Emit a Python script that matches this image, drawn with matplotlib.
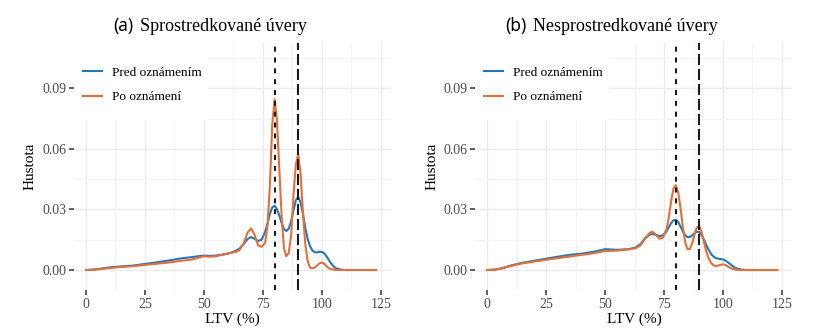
import matplotlib
matplotlib.use("Agg")
import matplotlib.pyplot as plt
from matplotlib.patches import Rectangle

plt.rcParams['font.family'] = ['Liberation Serif', 'DejaVu Serif']
plt.rcParams['lines.scale_dashes'] = False

ltv_a = [0, 3, 6, 10, 15, 20, 25, 30, 35, 40, 45, 48, 50, 52, 55, 60, 63, 65, 67, 68.5,
         70, 71.5, 73, 74.5, 76, 77, 78, 79, 80, 81, 82, 83, 84, 85, 86, 87, 88, 89, 90,
         91, 92, 93, 94, 95, 96, 97, 98, 99, 100, 101, 102, 103, 104, 105, 106, 108, 110,
         115, 123]
pred_a = [0, 0.0002, 0.0006, 0.0013, 0.0018, 0.0022, 0.0030, 0.0038, 0.0047, 0.0057,
          0.0064, 0.0069, 0.0071, 0.0070, 0.0071, 0.0080, 0.0092, 0.0105, 0.0130, 0.0153,
          0.0163, 0.0155, 0.0144, 0.0150, 0.0190, 0.0230, 0.0278, 0.0310, 0.0318, 0.0302,
          0.0270, 0.0232, 0.0202, 0.0193, 0.0205, 0.0240, 0.0295, 0.0345, 0.0362, 0.0335,
          0.0280, 0.0210, 0.0155, 0.0118, 0.0097, 0.0088, 0.0087, 0.0090, 0.0090, 0.0083,
          0.0068, 0.0050, 0.0032, 0.0018, 0.0009, 0.0002, 0, 0, 0]
po_a = [0, 0.0001, 0.0004, 0.0010, 0.0015, 0.0019, 0.0025, 0.0031, 0.0037, 0.0045,
        0.0052, 0.0062, 0.0068, 0.0066, 0.0068, 0.0082, 0.0088, 0.0097, 0.0135, 0.0185,
        0.0206, 0.0175, 0.0122, 0.0115, 0.0135, 0.0220, 0.0420, 0.0720, 0.0845, 0.0740,
        0.0500, 0.0260, 0.0105, 0.0068, 0.0085, 0.0170, 0.0370, 0.0520, 0.0575, 0.0480,
        0.0290, 0.0130, 0.0045, 0.0012, 0.0008, 0.0012, 0.0022, 0.0033, 0.0037, 0.0031,
        0.0019, 0.0009, 0.0004, 0.0002, 0.0001, 0, 0, 0, 0]

ltv_b = [0, 3, 6, 10, 15, 20, 25, 30, 35, 40, 45, 50, 55, 60, 63, 65, 67, 69, 70, 71.5,
         73, 74.5, 76, 77, 78, 79, 80, 81, 82, 83, 84, 85, 86, 87, 88, 89, 90, 91, 92, 93,
         94, 95, 96, 97, 98, 99, 100, 101, 102, 103, 104, 105, 106, 108, 110, 115, 123]
pred_b = [0, 0.0002, 0.0008, 0.0022, 0.0036, 0.0046, 0.0056, 0.0066, 0.0075, 0.0081,
          0.0090, 0.0103, 0.0100, 0.0103, 0.0112, 0.0128, 0.0158, 0.0176, 0.0178, 0.0175,
          0.0168, 0.0172, 0.0190, 0.0212, 0.0232, 0.0246, 0.0249, 0.0238, 0.0215, 0.0190,
          0.0172, 0.0163, 0.0164, 0.0172, 0.0183, 0.0190, 0.0188, 0.0172, 0.0148, 0.0122,
          0.0098, 0.0079, 0.0066, 0.0059, 0.0056, 0.0054, 0.0052, 0.0047, 0.0039, 0.0030,
          0.0020, 0.0012, 0.0007, 0.0002, 0, 0, 0]
po_b = [0, 0.0001, 0.0007, 0.0020, 0.0033, 0.0042, 0.0051, 0.0059, 0.0067, 0.0075,
        0.0083, 0.0094, 0.0096, 0.0102, 0.0108, 0.0122, 0.0155, 0.0185, 0.0190, 0.0175,
        0.0155, 0.0160, 0.0200, 0.0260, 0.0340, 0.0405, 0.0420, 0.0385, 0.0305, 0.0210,
        0.0135, 0.0102, 0.0105, 0.0135, 0.0180, 0.0212, 0.0215, 0.0185, 0.0135, 0.0088,
        0.0055, 0.0035, 0.0023, 0.0020, 0.0022, 0.0026, 0.0028, 0.0025, 0.0018, 0.0011,
        0.0006, 0.0003, 0.0001, 0, 0, 0, 0]

panels = [
    ("(a)", "Sprostredkované úvery", ltv_a, pred_a, po_a),
    ("(b)", "Nesprostredkované úvery", ltv_b, pred_b, po_b),
]
labels = ["Pred oznámením", "Po oznámení"]
x_ticks = [0, 25, 50, 75, 100, 125]
y_ticks = [0, 0.03, 0.06, 0.09]
y_ticklabels = ["0.00", "0.03", "0.06", "0.09"]
cutoffs = [80, 90]

blue = "#2577b8"
orange = "#e2703a"

fig = plt.figure(figsize=(8.34, 3.32), dpi=100)

lefts = [0.0890, 0.5701]
tag_x = [0.1595, 0.6307]
title_x = [0.1679, 0.6391]

for i, (tag, title, ltv, pred, po) in enumerate(panels):
    ax = fig.add_axes([lefts[i], 0.1265, 0.3799, 0.744])
    ax.set_xlim(-5, 129.4)
    ax.set_ylim(-0.0099, 0.1124)

    # grid
    ax.set_xticks(x_ticks)
    ax.set_xticks([12.5, 37.5, 62.5, 87.5, 112.5], minor=True)
    ax.set_yticks(y_ticks)
    ax.set_yticklabels(y_ticklabels)
    ax.set_yticks([0.015, 0.045, 0.075, 0.105], minor=True)
    ax.grid(which='major', color='#ebebeb', lw=1.0)
    ax.grid(which='minor', color='#f4f4f4', lw=0.7)
    ax.set_axisbelow(True)
    for s in ax.spines.values():
        s.set_visible(False)
    ax.tick_params(which='major', length=3.5, width=1.1, color='#333333',
                   labelcolor='#4d4d4d', labelsize=10, pad=2)
    ax.tick_params(which='minor', length=0)

    # white legend background hides grid
    ax.add_patch(Rectangle((0, 0.688), 0.423, 0.312, transform=ax.transAxes,
                           facecolor='white', edgecolor='none', zorder=1.5))

    ax.plot(ltv, pred, color=blue, lw=1.5, label=labels[0], zorder=3)
    ax.plot(ltv, po, color=orange, lw=1.5, label=labels[1], zorder=3)
    ax.axvline(cutoffs[0], color='#1a1a1a', lw=1.5, ls=(0, (3.6, 4.2)), zorder=4)
    ax.axvline(cutoffs[1], color='#1a1a1a', lw=1.5, ls=(0, (8.0, 2.8)), zorder=4)

    ax.legend(loc='upper left', bbox_to_anchor=(0.028, 0.905), frameon=False,
              fontsize=9.5, handlelength=1.45, handletextpad=0.75,
              labelspacing=0.95, borderpad=0, borderaxespad=0)

    ax.set_xlabel("LTV (%)", fontsize=11, labelpad=1)
    ax.set_ylabel("Hustota", fontsize=11, labelpad=4)

    fig.text(tag_x[i], 0.9075, tag, family='Noto Sans', fontsize=12.5,
             ha='right', va='baseline')
    fig.text(title_x[i], 0.9075, title, fontsize=13, ha='left', va='baseline')

fig.savefig("out.png", dpi=100)
